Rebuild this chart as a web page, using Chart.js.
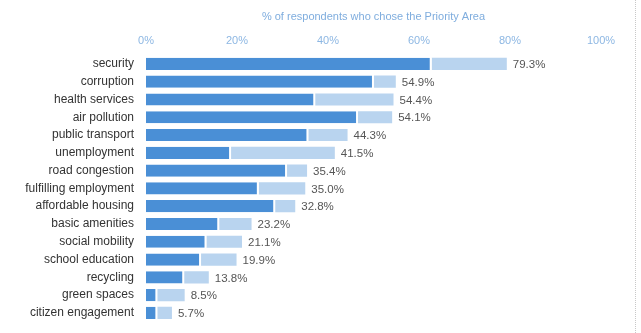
<!DOCTYPE html>
<html lang="en">
<head>
  <meta charset="UTF-8">
  <title>Priority Areas</title>
  <script src="https://cdn.jsdelivr.net/npm/chart.js"></script>
  <style>
    html, body {
      margin: 0;
      padding: 0;
      background: #fff;
    }
    .wrap {
      position: relative;
      width: 641px;
      height: 333px;
    }
    .edge {
      position: absolute;
      left: 635px;
      top: 0;
      height: 333px;
      border-right: 1px dotted #c8c8c8;
    }
  </style>
</head>
<body>
  <div class="wrap">
    <canvas id="chart" width="641" height="333"></canvas>
    <div class="edge"></div>
  </div>

  <script>
    const areas = ['security', 'corruption', 'health services', 'air pollution', 'public transport',
      'unemployment', 'road congestion', 'fulfilling employment', 'affordable housing', 'basic amenities',
      'social mobility', 'school education', 'recycling', 'green spaces', 'citizen engagement'];
    // dark part of each bar
    const topChoice = [62.8, 50.1, 37.2, 46.6, 35.7, 18.7, 31.0, 24.8, 28.4, 16.1, 13.3, 12.1, 8.4, 2.5, 2.5];
    // full bar length (labelled)
    const totals = [79.3, 54.9, 54.4, 54.1, 44.3, 41.5, 35.4, 35.0, 32.8, 23.2, 21.1, 19.9, 13.8, 8.5, 5.7];
    const rest = totals.map((t, i) => +(t - topChoice[i]).toFixed(1));

    const FONT = '"Liberation Sans", Arial, sans-serif';

    // total labels at the bar ends
    const totalLabels = {
      id: 'totalLabels',
      afterDatasetsDraw(chart) {
        const ctx = chart.ctx;
        const meta = chart.getDatasetMeta(1);
        ctx.save();
        ctx.font = '11.5px ' + FONT;
        ctx.fillStyle = '#555';
        ctx.textBaseline = 'middle';
        meta.data.forEach((bar, i) => {
          ctx.fillText(totals[i].toFixed(1) + '%', bar.x + 6, bar.y + 1);
        });
        ctx.restore();
      }
    };

    new Chart(document.getElementById('chart'), {
      type: 'bar',
      data: {
        labels: areas,
        datasets: [{
          data: topChoice,
          backgroundColor: '#4a8fd6',
          borderColor: '#ffffff',
          borderWidth: { right: 2, left: 0, top: 0, bottom: 0 },
          borderSkipped: false,
          barPercentage: 0.72,
          categoryPercentage: 0.95
        }, {
          data: rest,
          backgroundColor: '#b9d4ef',
          barPercentage: 0.72,
          categoryPercentage: 0.95
        }]
      },
      options: {
        indexAxis: 'y',
        responsive: false,
        animation: false,
        layout: { padding: { left: 0, right: 40, top: 0, bottom: 3 } },
        plugins: {
          legend: { display: false },
          tooltip: { enabled: false }
        },
        scales: {
          x: {
            position: 'top',
            stacked: true,
            min: 0,
            max: 100,
            grid: { display: false, drawTicks: false },
            border: { display: false },
            ticks: {
              stepSize: 20,
              padding: 7,
              color: '#8db7e3',
              font: { size: 11, family: FONT },
              callback: v => v + '%'
            },
            title: {
              display: true,
              text: '% of respondents who chose the Priority Area',
              color: '#7fadde',
              font: { size: 11, family: FONT },
              padding: { top: 10, bottom: 10 }
            },
            afterFit: s => { s.height = 55; }
          },
          y: {
            stacked: true,
            grid: { display: false },
            border: { display: false },
            ticks: {
              padding: 4,
              color: '#333',
              font: { size: 12, family: FONT }
            },
            afterFit: s => { s.width = 146; }
          }
        }
      },
      plugins: [totalLabels]
    });
  </script>
</body>
</html>
